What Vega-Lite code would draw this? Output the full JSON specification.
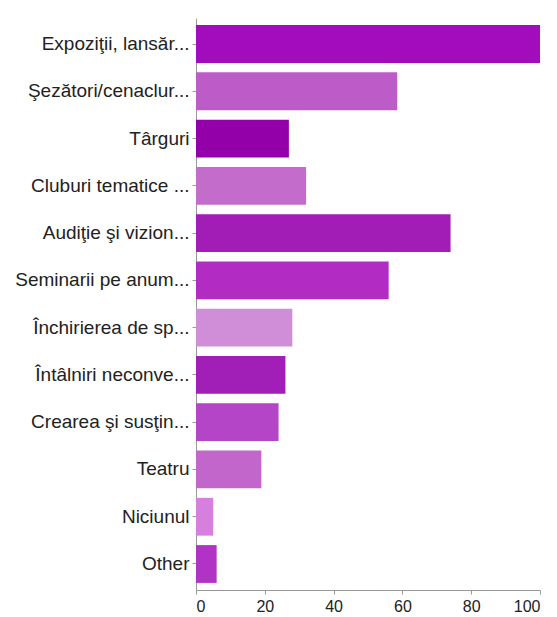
{
  "$schema": "https://vega.github.io/schema/vega-lite/v6.json",
  "autosize": "none",
  "width": 344,
  "height": 572,
  "padding": {"left": 196, "top": 18, "right": 17, "bottom": 27},
  "background": "white",
  "data": {
    "values": [
      {"cat": "Expoziţii, lansăr...", "v": 100},
      {"cat": "Şezători/cenaclur...", "v": 58.5},
      {"cat": "Târguri", "v": 27},
      {"cat": "Cluburi tematice ...", "v": 32},
      {"cat": "Audiţie şi vizion...", "v": 74},
      {"cat": "Seminarii pe anum...", "v": 56},
      {"cat": "Închirierea de sp...", "v": 28},
      {"cat": "Întâlniri neconve...", "v": 26},
      {"cat": "Crearea şi susţin...", "v": 24},
      {"cat": "Teatru", "v": 19},
      {"cat": "Niciunul", "v": 5},
      {"cat": "Other", "v": 6}
    ]
  },
  "mark": {"type": "bar"},
  "encoding": {
    "y": {
      "field": "cat",
      "type": "nominal",
      "sort": null,
      "scale": {"paddingInner": 0.2, "paddingOuter": 0.15},
      "axis": {
        "title": null,
        "labelFont": "Liberation Sans",
        "labelFontSize": 19,
        "labelColor": "#222222",
        "labelPadding": 3,
        "labelLimit": 200,
        "tickSize": 4,
        "tickColor": "#999999",
        "domainColor": "#999999",
        "grid": false
      }
    },
    "x": {
      "field": "v",
      "type": "quantitative",
      "scale": {"domain": [0, 100], "nice": false},
      "axis": {
        "title": null,
        "values": [0, 20, 40, 60, 80, 100],
        "labelFont": "Liberation Sans",
        "labelFontSize": 16,
        "labelColor": "#222222",
        "labelPadding": 4,
        "tickSize": 4,
        "tickColor": "#999999",
        "domainColor": "#999999",
        "grid": false
      }
    },
    "color": {
      "field": "cat",
      "type": "nominal",
      "legend": null,
      "scale": {
        "domain": ["Expoziţii, lansăr...", "Şezători/cenaclur...", "Târguri", "Cluburi tematice ...", "Audiţie şi vizion...", "Seminarii pe anum...", "Închirierea de sp...", "Întâlniri neconve...", "Crearea şi susţin...", "Teatru", "Niciunul", "Other"],
        "range": ["#a30cbd", "#bd5cc8", "#9300a9", "#c36ccb", "#a21db6", "#b22cc4", "#d08ed8", "#a21fb7", "#b445c6", "#c266cb", "#d77fde", "#b133c6"]
      }
    }
  },
  "config": {"view": {"stroke": null}}
}
